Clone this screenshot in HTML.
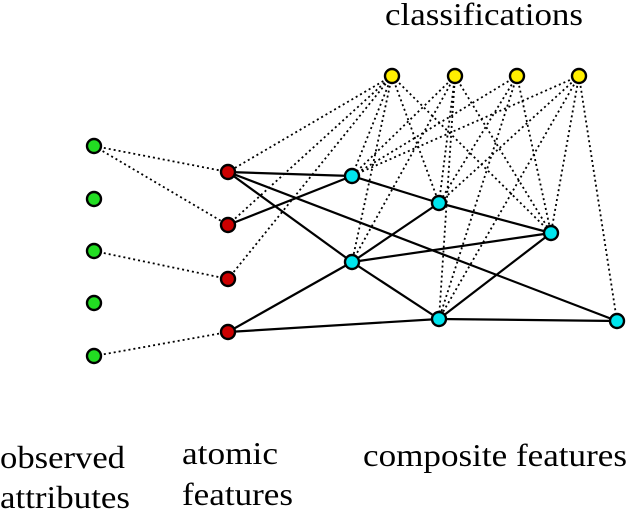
<!DOCTYPE html>
<html><head><style>
body{margin:0;width:628px;height:514px;background:#fff;overflow:hidden}
svg{display:block}
text{font-family:"Liberation Serif",serif;font-size:32px;fill:#000}
</style></head><body>
<svg width="628" height="514" viewBox="0 0 628 514">
<g stroke="#000" stroke-width="1.8" stroke-dasharray="2,3" fill="none">
<line x1="94" y1="146" x2="228" y2="172"/>
<line x1="94" y1="146" x2="228" y2="225"/>
<line x1="94" y1="251" x2="228" y2="279"/>
<line x1="94" y1="356" x2="228" y2="332"/>
<line x1="392" y1="76" x2="228" y2="172"/>
<line x1="392" y1="76" x2="228" y2="225"/>
<line x1="392" y1="76" x2="228" y2="279"/>
<line x1="392" y1="76" x2="352" y2="176"/>
<line x1="392" y1="76" x2="352" y2="262"/>
<line x1="392" y1="76" x2="439" y2="203"/>
<line x1="392" y1="76" x2="551" y2="233"/>
<line x1="455" y1="76" x2="352" y2="176"/>
<line x1="455" y1="76" x2="439" y2="203"/>
<line x1="455" y1="76" x2="439" y2="319"/>
<line x1="455" y1="76" x2="551" y2="233"/>
<line x1="455" y1="76" x2="352" y2="262"/>
<line x1="517" y1="76" x2="352" y2="176"/>
<line x1="517" y1="76" x2="439" y2="203"/>
<line x1="517" y1="76" x2="439" y2="319"/>
<line x1="517" y1="76" x2="551" y2="233"/>
<line x1="579" y1="76" x2="352" y2="176"/>
<line x1="579" y1="76" x2="439" y2="203"/>
<line x1="579" y1="76" x2="551" y2="233"/>
<line x1="579" y1="76" x2="617" y2="321"/>
<line x1="579" y1="76" x2="439" y2="319"/>
</g>
<g stroke="#000" stroke-width="2.2" fill="none">
<line x1="228" y1="172" x2="352" y2="176"/>
<line x1="228" y1="172" x2="352" y2="262"/>
<line x1="228" y1="172" x2="617" y2="321"/>
<line x1="228" y1="225" x2="352" y2="176"/>
<line x1="228" y1="332" x2="352" y2="262"/>
<line x1="228" y1="332" x2="439" y2="319"/>
<line x1="352" y1="176" x2="439" y2="203"/>
<line x1="439" y1="203" x2="551" y2="233"/>
<line x1="352" y1="262" x2="439" y2="203"/>
<line x1="352" y1="262" x2="551" y2="233"/>
<line x1="352" y1="262" x2="439" y2="319"/>
<line x1="439" y1="319" x2="551" y2="233"/>
<line x1="439" y1="319" x2="617" y2="321"/>
</g>
<g stroke="#000" stroke-width="2.4">
<g fill="#22dd22"><circle cx="94" cy="146" r="7"/><circle cx="94" cy="199" r="7"/><circle cx="94" cy="251" r="7"/><circle cx="94" cy="303" r="7"/><circle cx="94" cy="356" r="7"/></g>
<g fill="#cc0000"><circle cx="228" cy="172" r="7"/><circle cx="228" cy="225" r="7"/><circle cx="228" cy="279" r="7"/><circle cx="228" cy="332" r="7"/></g>
<g fill="#00e5ee"><circle cx="352" cy="176" r="7"/><circle cx="352" cy="262" r="7"/><circle cx="439" cy="203" r="7"/><circle cx="439" cy="319" r="7"/><circle cx="551" cy="233" r="7"/><circle cx="617" cy="321" r="7"/></g>
<g fill="#ffee00"><circle cx="392" cy="76" r="7"/><circle cx="455" cy="76" r="7"/><circle cx="517" cy="76" r="7"/><circle cx="579" cy="76" r="7"/></g>
</g>
<text x="385" y="25" textLength="198" lengthAdjust="spacingAndGlyphs">classifications</text>
<text x="0" y="468" textLength="125" lengthAdjust="spacingAndGlyphs">observed</text>
<text x="0" y="508" textLength="130" lengthAdjust="spacingAndGlyphs">attributes</text>
<text x="182" y="464" textLength="96" lengthAdjust="spacingAndGlyphs">atomic</text>
<text x="182" y="505" textLength="111" lengthAdjust="spacingAndGlyphs">features</text>
<text x="363" y="466" textLength="264" lengthAdjust="spacingAndGlyphs">composite features</text>
</svg>
</body></html>
